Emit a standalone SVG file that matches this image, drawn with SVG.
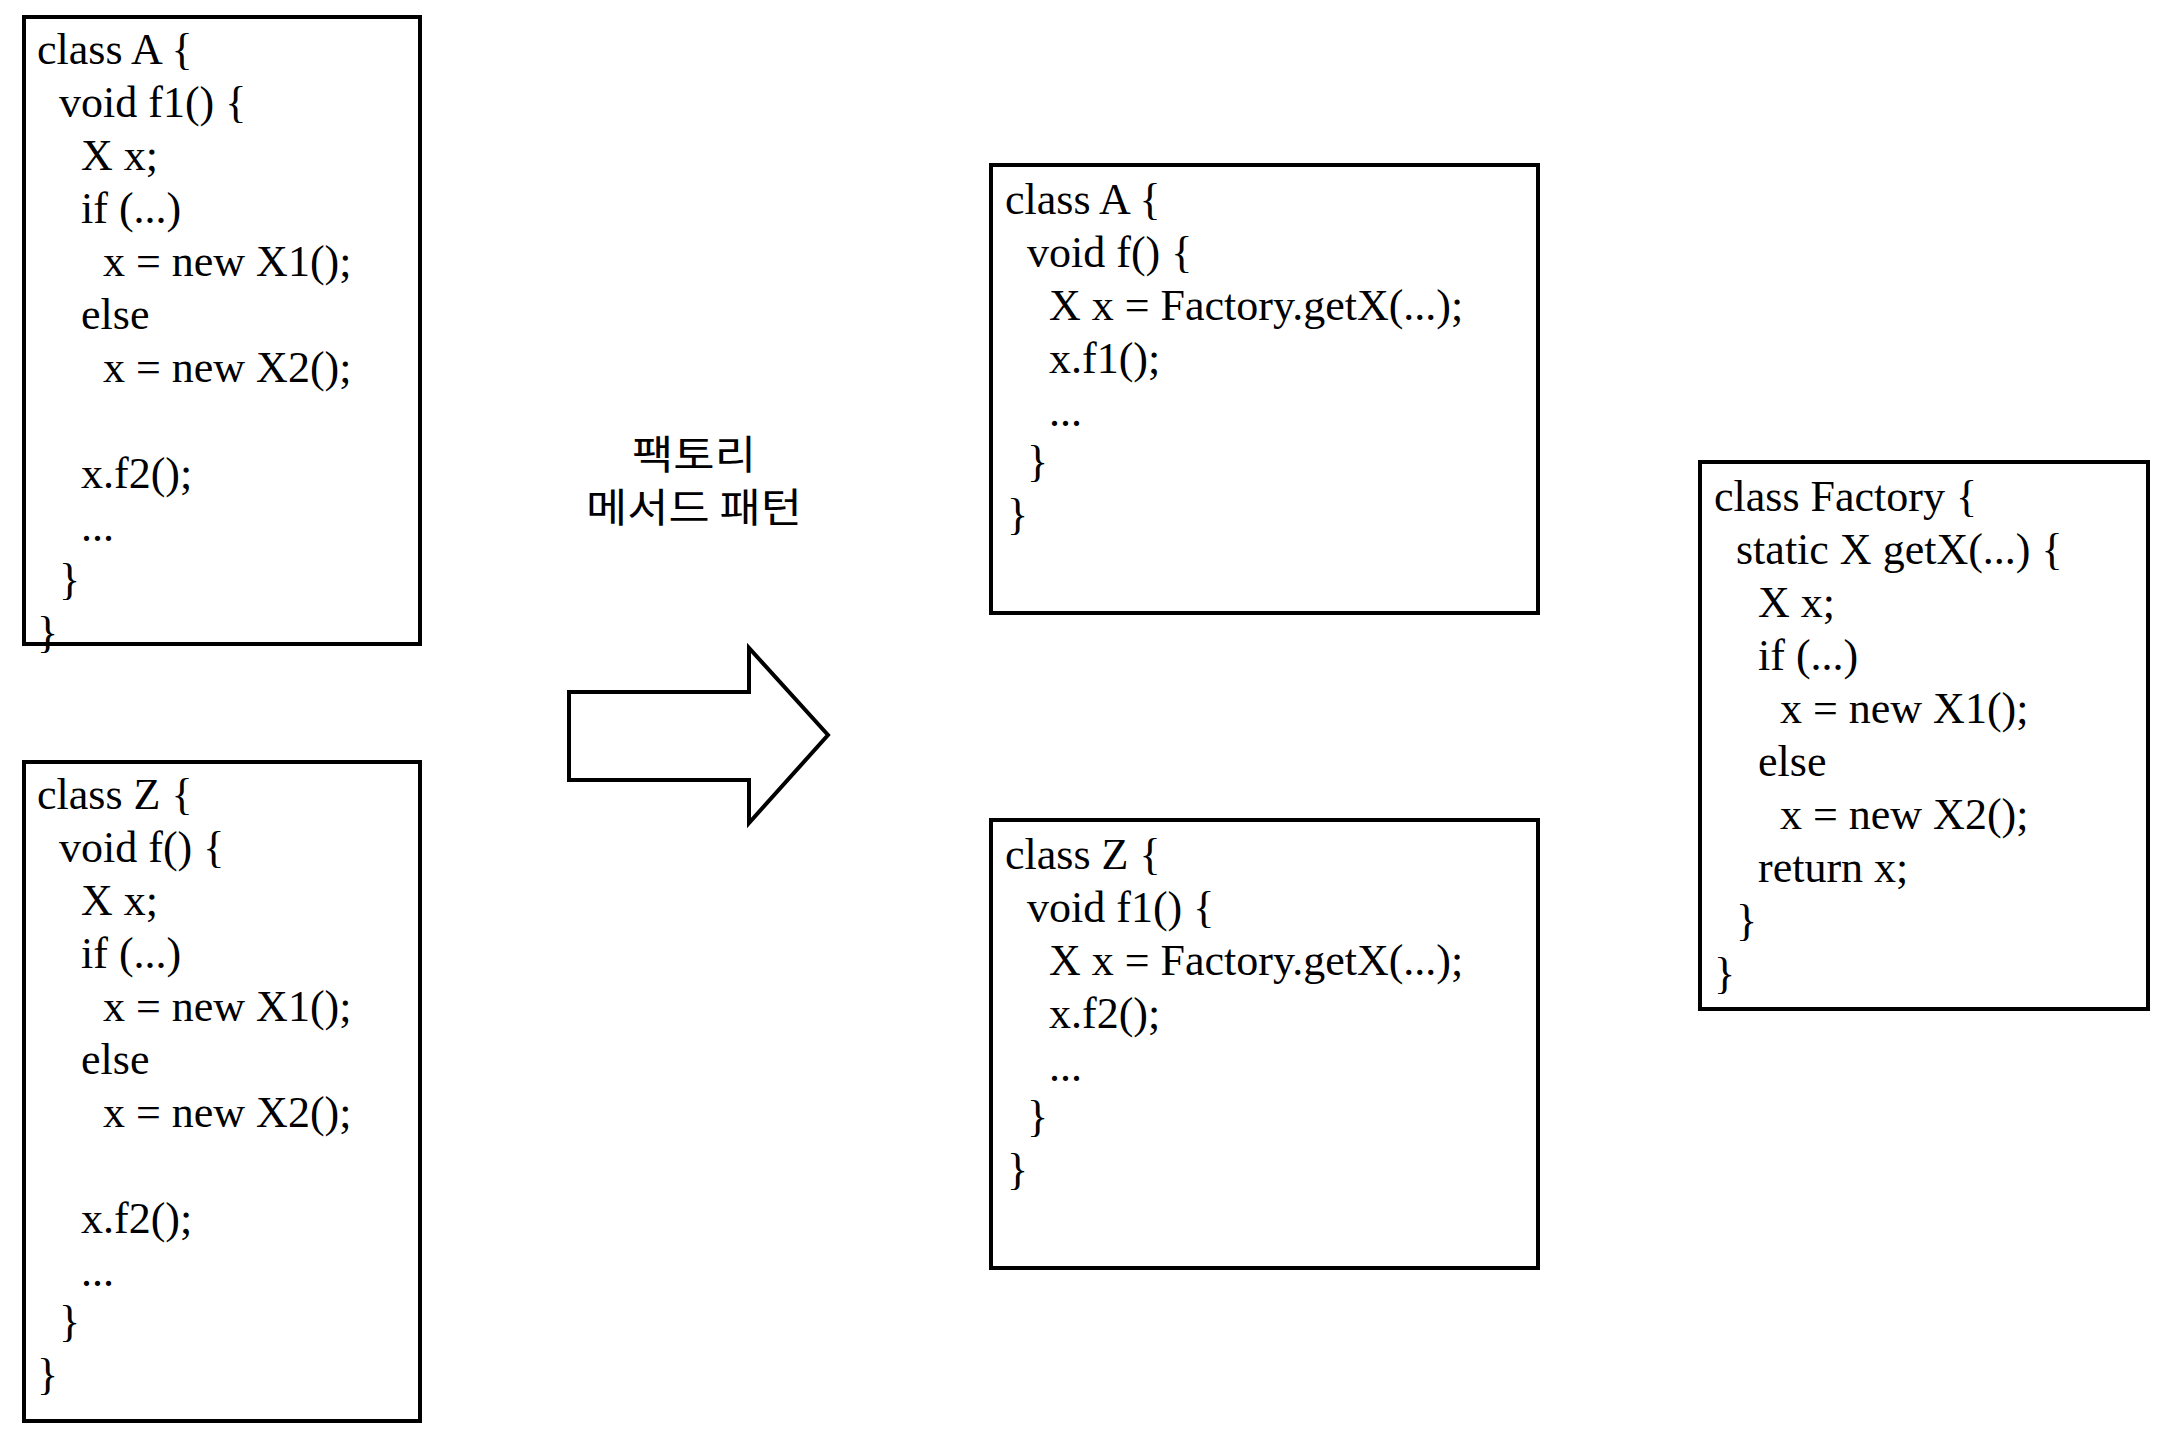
<svg xmlns="http://www.w3.org/2000/svg" width="2176" height="1436" viewBox="0 0 2176 1436">
<style>
.box{fill:none;stroke:#000;stroke-width:4}
.code{font-family:"Liberation Serif","Times New Roman",serif;font-size:44px;fill:#000}
.ko{font-family:"Noto Sans CJK KR","Noto Sans",sans-serif;font-size:40px;fill:#000;text-anchor:middle}
</style>
<rect width="2176" height="1436" fill="#fff"/>
<g id="classA-before">
<rect class="box" x="24" y="17" width="396" height="627"/>
<text class="code" x="37" y="64">class A {</text>
<text class="code" x="59" y="117">void f1() {</text>
<text class="code" x="81" y="170">X x;</text>
<text class="code" x="81" y="223">if (...)</text>
<text class="code" x="103" y="276">x = new X1();</text>
<text class="code" x="81" y="329">else</text>
<text class="code" x="103" y="382">x = new X2();</text>
<text class="code" x="81" y="488">x.f2();</text>
<text class="code" x="81" y="541">...</text>
<text class="code" x="59" y="594">}</text>
<text class="code" x="37" y="647">}</text>
</g>
<g id="classZ-before">
<rect class="box" x="24" y="762" width="396" height="659"/>
<text class="code" x="37" y="809">class Z {</text>
<text class="code" x="59" y="862">void f() {</text>
<text class="code" x="81" y="915">X x;</text>
<text class="code" x="81" y="968">if (...)</text>
<text class="code" x="103" y="1021">x = new X1();</text>
<text class="code" x="81" y="1074">else</text>
<text class="code" x="103" y="1127">x = new X2();</text>
<text class="code" x="81" y="1233">x.f2();</text>
<text class="code" x="81" y="1286">...</text>
<text class="code" x="59" y="1336">}</text>
<text class="code" x="37" y="1389">}</text>
</g>
<g id="label">
<text class="ko" x="694" y="469" textLength="124" lengthAdjust="spacingAndGlyphs">팩토리</text>
<text class="ko" x="694" y="522" textLength="216" lengthAdjust="spacingAndGlyphs">메서드 패턴</text>
</g>
<g id="connectors">
<path class="box" d="M569,692 L749,692 L749,648 L828,735 L749,823 L749,780 L569,780 Z"/>
</g>
<g id="classA-after">
<rect class="box" x="991" y="165" width="547" height="448"/>
<text class="code" x="1005" y="214">class A {</text>
<text class="code" x="1027" y="267">void f() {</text>
<text class="code" x="1049" y="320">X x = Factory.getX(...);</text>
<text class="code" x="1049" y="373">x.f1();</text>
<text class="code" x="1049" y="426">...</text>
<text class="code" x="1027" y="476">}</text>
<text class="code" x="1007" y="529">}</text>
</g>
<g id="classZ-after">
<rect class="box" x="991" y="820" width="547" height="448"/>
<text class="code" x="1005" y="869">class Z {</text>
<text class="code" x="1027" y="922">void f1() {</text>
<text class="code" x="1049" y="975">X x = Factory.getX(...);</text>
<text class="code" x="1049" y="1028">x.f2();</text>
<text class="code" x="1049" y="1081">...</text>
<text class="code" x="1027" y="1131">}</text>
<text class="code" x="1007" y="1184">}</text>
</g>
<g id="factory">
<rect class="box" x="1700" y="462" width="448" height="547"/>
<text class="code" x="1714" y="511">class Factory {</text>
<text class="code" x="1736" y="564">static X getX(...) {</text>
<text class="code" x="1758" y="617">X x;</text>
<text class="code" x="1758" y="670">if (...)</text>
<text class="code" x="1780" y="723">x = new X1();</text>
<text class="code" x="1758" y="776">else</text>
<text class="code" x="1780" y="829">x = new X2();</text>
<text class="code" x="1758" y="882">return x;</text>
<text class="code" x="1736" y="935">}</text>
<text class="code" x="1714" y="988">}</text>
</g>
</svg>
